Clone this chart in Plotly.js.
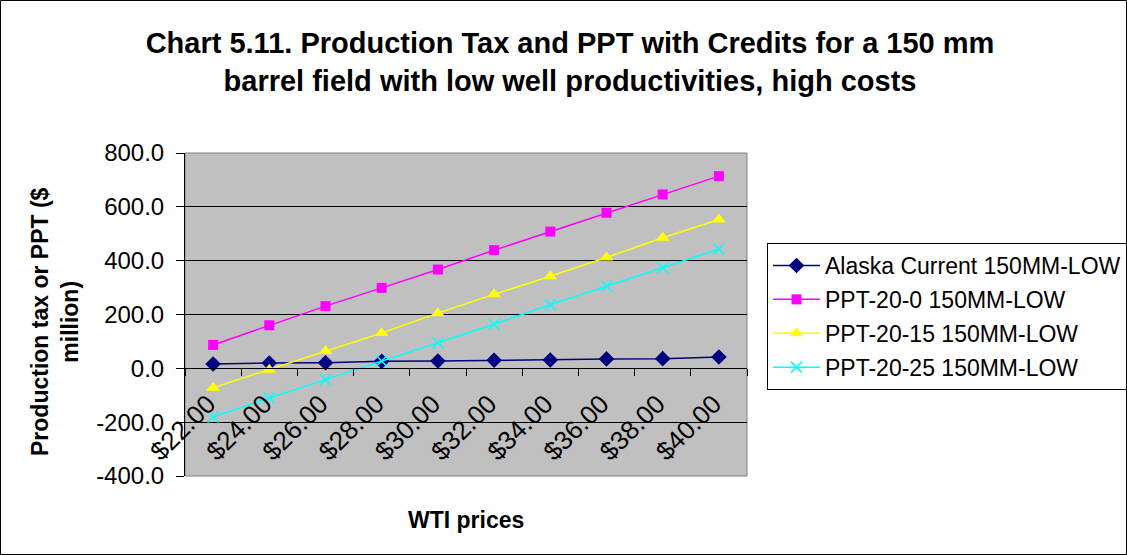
<!DOCTYPE html>
<html>
<head>
<meta charset="utf-8">
<script src="https://cdn.plot.ly/plotly-3.0.1.min.js"></script>
<style>
  html, body { margin: 0; padding: 0; background: #ffffff; }
  #chart { width: 1127px; height: 555px; }
</style>
</head>
<body>
<div id="chart"></div>
<script>
// ---- Data ----
const categories = ["$22.00", "$24.00", "$26.00", "$28.00", "$30.00", "$32.00", "$34.00", "$36.00", "$38.00", "$40.00"];
const seriesNames = ["Alaska Current 150MM-LOW", "PPT-20-0 150MM-LOW", "PPT-20-15 150MM-LOW", "PPT-20-25 150MM-LOW"];
const alaskaCurrent = [16, 20, 21, 26, 27, 30, 31, 35, 36, 42];
const ppt20_0  = [87, 160, 231, 299, 367, 439, 508, 578, 646, 714];
const ppt20_15 = [-72, -5, 64, 131, 205, 275, 342, 412, 485, 553];
const ppt20_25 = [-181, -110, -42, 27, 95, 164, 236, 305, 374, 443];
const yTickVals = [-400, -200, 0, 200, 400, 600, 800];
const yTickText = ["-400.0", "-200.0", "0.0", "200.0", "400.0", "600.0", "800.0"];

const FONT = "Liberation Sans, Arial, Helvetica, sans-serif";

// plot area geometry in pixels
const W = 1127, H = 555;
const L = 185, R = 747, T = 153, B = 476;
const pw = R - L, ph = B - T;
const px = x => (x - L) / pw;
const py = y => (B - y) / ph;

const traces = [
  {
    name: seriesNames[0], x: categories, y: alaskaCurrent, type: "scatter", mode: "lines+markers",
    line: { color: "#000080", width: 1.5 },
    marker: { symbol: "diamond", size: 12, color: "#000080" },
    legendgroup: "a"
  },
  {
    name: seriesNames[1], x: categories, y: ppt20_0, type: "scatter", mode: "lines+markers",
    line: { color: "#FF00FF", width: 1.5 },
    marker: { symbol: "square", size: 10, color: "#FF00FF" },
    legendgroup: "b"
  },
  {
    name: seriesNames[2], x: categories, y: ppt20_15, type: "scatter", mode: "lines+markers",
    line: { color: "#FFFF00", width: 1.5 },
    marker: { symbol: "triangle-up", size: 12, color: "#FFFF00" },
    legendgroup: "c"
  },
  {
    name: seriesNames[3], x: categories, y: ppt20_25, type: "scatter", mode: "lines+markers",
    line: { color: "#00FFFF", width: 1.5 },
    marker: { symbol: "x-thin", size: 11, color: "#00FFFF", line: { color: "#00FFFF", width: 1.5 } },
    legendgroup: "d"
  }
];

const layout = {
  width: W, height: H,
  margin: { l: L, r: W - R, t: T, b: H - B, pad: 0, autoexpand: false },
  paper_bgcolor: "#ffffff",
  plot_bgcolor: "#C0C0C0",
  font: { family: FONT, size: 23, color: "#000000" },
  title: {
    text: "<b>Chart 5.11. Production Tax and PPT with Credits for a 150 mm<br>barrel field with low well productivities, high costs</b>",
    font: { family: FONT, size: 29, color: "#000000" },
    xref: "container", x: 570 / W, xanchor: "center",
    yref: "container", y: 1 - 53 / H, yanchor: "middle"
  },
  xaxis: {
    type: "category",
    anchor: "free", position: 1 / 3,
    showline: true, linecolor: "#000000", linewidth: 1,
    ticks: "outside", ticklen: 7, tickcolor: "#000000", tickwidth: 1,
    tickson: "boundaries",
    tickmode: "array", tickvals: categories,
    ticktext: categories.map(c => c + "\u00a0"),
    tickangle: -45,
    ticklabelstandoff: 4,
    tickfont: { family: FONT, size: 26, color: "#000000" },
    showgrid: false, zeroline: false,
    range: [-0.5, 9.5]
  },
  yaxis: {
    range: [-400, 800],
    tickmode: "array", tickvals: yTickVals, ticktext: yTickText,
    showline: true, linecolor: "#000000", linewidth: 1,
    ticks: "outside", ticklen: 8, tickcolor: "#000000",
    ticklabelstandoff: 7,
    tickfont: { family: FONT, size: 24, color: "#000000" },
    showgrid: true, gridcolor: "#000000", gridwidth: 1,
    zeroline: false
  },
  legend: {
    xref: "container", yref: "container",
    x: 767 / W, y: 1 - 243 / H, xanchor: "left", yanchor: "top",
    bgcolor: "#ffffff", bordercolor: "#000000", borderwidth: 1,
    font: { family: FONT, size: 23, color: "#000000" },
    traceorder: "grouped", tracegroupgap: 1,
    itemwidth: 47
  },
  annotations: [
    {
      text: "<b>Production tax or PPT ($<br>million)</b>",
      xref: "paper", yref: "paper", x: px(55), y: py(322),
      xanchor: "center", yanchor: "middle", textangle: -90,
      showarrow: false, font: { family: FONT, size: 23, color: "#000000" }
    },
    {
      text: "<b>WTI prices</b>",
      xref: "paper", yref: "paper", x: 0.5, y: py(520),
      xanchor: "center", yanchor: "middle",
      showarrow: false, font: { family: FONT, size: 23, color: "#000000" }
    }
  ],
  shapes: [
    {
      type: "rect", xref: "paper", yref: "paper", x0: 0, x1: 1, y0: 0, y1: 1,
      line: { color: "#808080", width: 1 }, layer: "below"
    },
    {
      type: "rect", xref: "paper", yref: "paper",
      x0: px(0.5), x1: px(W - 0.5), y0: py(H - 0.5), y1: py(0.5),
      line: { color: "#000000", width: 1 }, layer: "above"
    }
  ],
  showlegend: true
};

Plotly.newPlot("chart", traces, layout, { displayModeBar: false, staticPlot: true });
</script>
</body>
</html>
